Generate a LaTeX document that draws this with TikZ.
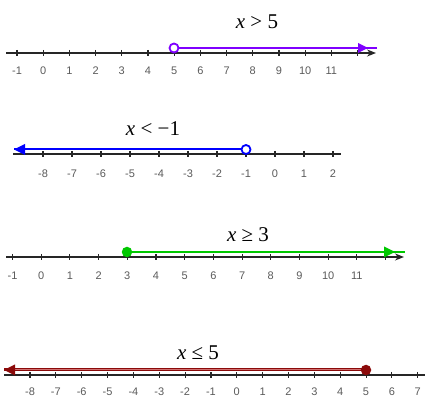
\documentclass[tikz,border=0pt]{standalone}
\usepackage{fontspec}
\setmainfont{Liberation Serif}
\newfontfamily\numfont{Liberation Sans}
\usetikzlibrary{arrows.meta,calc}
\definecolor{purp}{HTML}{7F00FF}
\definecolor{blu}{HTML}{0000FF}
\definecolor{grn}{HTML}{00C800}
\definecolor{dred}{HTML}{8B0A0A}
\definecolor{lred}{HTML}{D07070}
\definecolor{numgray}{HTML}{5A5A5A}
\tikzset{
  axisline/.style={line width=1.4pt, draw=black!85},
  tickmark/.style={line width=1.1pt, draw=black!85},
  numlabel/.style={font=\numfont\fontsize{11}{13}\selectfont, text=numgray, inner sep=0pt},
  title/.style={font=\fontsize{21}{24}\selectfont, inner sep=0pt},
  ray/.style={line width=2pt},
  opendot/.style={circle, draw=#1, fill=white, line width=1.8pt, minimum size=9pt, inner sep=0pt},
  filldot/.style={circle, fill=#1, minimum size=10.5pt, inner sep=0pt},
}
\begin{document}
\begin{tikzpicture}[x=1pt,y=-1pt]
\useasboundingbox (0,0) rectangle (442,411);

% ---------- Line 1: x > 5 ----------
\coordinate (a1s) at (6,53);
\coordinate (a1e) at (376,53);
\draw[axisline, -{Stealth[length=9pt,width=7pt]}] (a1s) -- (a1e);
\foreach \n in {-1,...,12} {
  \draw[tickmark] ({17+(\n+1)*26.2},50) -- ({17+(\n+1)*26.2},56);
}
\foreach \n in {-1,...,11} {
  \node[numlabel] (l1n\n) at ({17+(\n+1)*26.2},71) {\n};
}
\node[opendot=purp] (o1) at (174,48) {};
\coordinate (r1e) at (377,48);
\coordinate (r1a) at (368,48);
\draw[ray, purp] (o1) -- (r1e);
\fill[purp] (r1a) -- ++(-10,-5) -- ++(0,10) -- cycle;
\node[title] (t1) at (257,22) {\itshape x\upshape\ > 5};

% ---------- Line 2: x < -1 ----------
\coordinate (a2s) at (13,154);
\coordinate (a2e) at (341,154);
\draw[axisline] (a2s) -- (a2e);
\foreach \n in {-8,...,2} {
  \draw[tickmark] ({43+(\n+8)*29},151) -- ({43+(\n+8)*29},157);
  \node[numlabel] (l2n\n) at ({43+(\n+8)*29},174) {\n};
}
\node[opendot=blu] (o2) at (246,149.5) {};
\coordinate (r2e) at (14,149.5);
\draw[ray, blu] (o2) -- (r2e);
\fill[blu] (r2e) -- ++(11,-5.5) -- ++(0,11) -- cycle;
\node[title] (t2) at (153,129) {\itshape x\upshape\ < −1};

% ---------- Line 3: x >= 3 ----------
\coordinate (a3s) at (6,257);
\coordinate (a3e) at (404,257);
\draw[axisline, -{Stealth[length=9pt,width=7pt]}] (a3s) -- (a3e);
\foreach \n in {-1,...,12} {
  \draw[tickmark] ({12.5+(\n+1)*28.7},254) -- ({12.5+(\n+1)*28.7},260);
}
\foreach \n in {-1,...,11} {
  \node[numlabel] (l3n\n) at ({12.5+(\n+1)*28.7},276) {\n};
}
\node[filldot=grn] (f3) at (127,252) {};
\coordinate (r3e) at (405,252);
\coordinate (r3a) at (395,252);
\draw[ray, grn] (f3) -- (r3e);
\fill[grn] (r3a) -- ++(-11,-5.5) -- ++(0,11) -- cycle;
\node[title] (t3) at (248,235) {\itshape x\upshape\ ≥ 3};

% ---------- Line 4: x <= 5 ----------
\coordinate (a4s) at (4,375);
\coordinate (a4e) at (425,375);
\draw[axisline] (a4s) -- (a4e);
\foreach \n in {-8,...,7} {
  \draw[tickmark] ({30+(\n+8)*25.85},372) -- ({30+(\n+8)*25.85},378);
  \node[numlabel] (l4n\n) at ({30+(\n+8)*25.85},392) {\n};
}
\coordinate (r4e) at (4,370);
\coordinate (r4d) at (366,370);
\draw[line width=3pt, dred] (r4d) -- (r4e);
\draw[line width=1pt, lred] (r4d) -- ($(r4e)+(10,0)$);
\fill[dred] (r4e) -- ++(11,-5.5) -- ++(0,11) -- cycle;
\node[filldot=dred] (f4) at (r4d) {};
\node[title] (t4) at (198,353) {\itshape x\upshape\ ≤ 5};
\end{tikzpicture}
\end{document}
